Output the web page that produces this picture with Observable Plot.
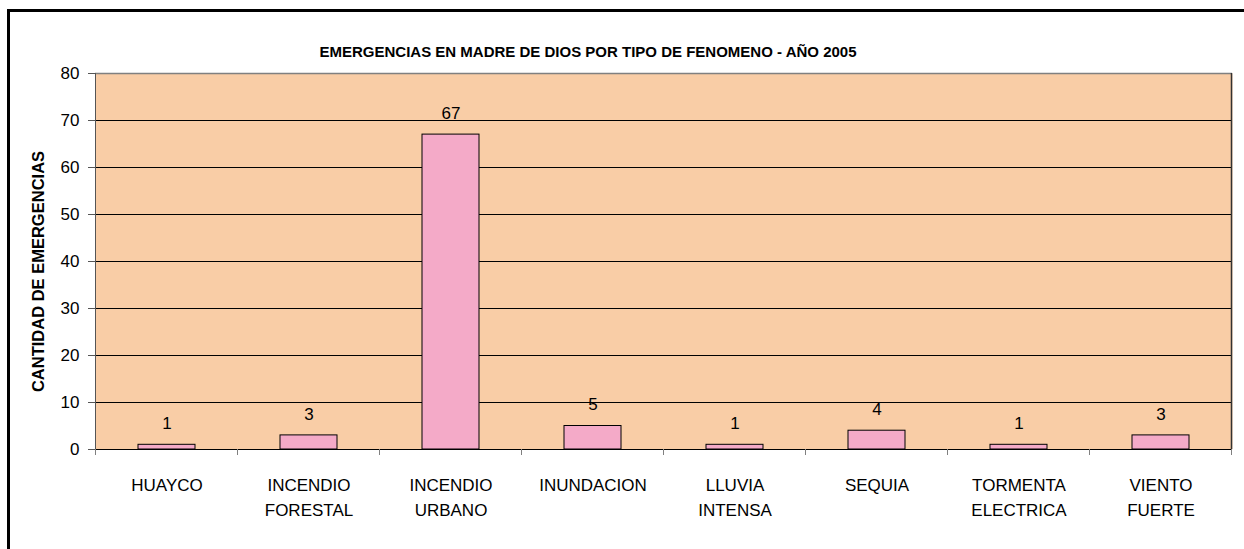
<!DOCTYPE html>
<html><head><meta charset="utf-8">
<script src="https://cdn.jsdelivr.net/npm/d3@7"></script>
<script src="https://cdn.jsdelivr.net/npm/@observablehq/plot@0.6"></script>
<style>
html,body{margin:0;padding:0;background:#fff;overflow:hidden;width:1244px;height:549px;}
#wrap{position:relative;width:1244px;height:549px;font-family:"Liberation Sans",Arial,sans-serif;}
#chart{position:absolute;left:0;top:0;}
#border{position:absolute;left:7px;top:9px;width:1300px;height:600px;border:3px solid #000;pointer-events:none;}
#title{position:absolute;left:0;width:1176px;top:43px;text-align:center;font-weight:bold;font-size:15px;color:#000;line-height:18px;}
</style></head><body>
<div id="wrap"><div id="chart"></div><div id="border"></div><div id="title">EMERGENCIAS EN MADRE DE DIOS POR TIPO DE FENOMENO - AÑO 2005</div></div>
<script>
const categories = ["HUAYCO","INCENDIO\nFORESTAL","INCENDIO\nURBANO","INUNDACION","LLUVIA\nINTENSA","SEQUIA","TORMENTA\nELECTRICA","VIENTO\nFUERTE"];
const values = [1,3,67,5,1,4,1,3];
const yTicks = [0,10,20,30,40,50,60,70,80];
const gridValues = [0,10,20,30,40,50,60,70];
const yLabel = "CANTIDAD DE EMERGENCIAS";

const data = categories.map((c,i)=>({cat:c, value:values[i]}));

function boundaryTicks(index, scales, values, dims) {
  const x = scales.x;
  const n = categories.length;
  let step, bw;
  if (typeof x.step === "function") { step = x.step(); bw = x.bandwidth(); }
  else { step = scales.scales.x.step; bw = scales.scales.x.bandwidth; }
  const y0 = dims.height - dims.marginBottom;
  const yTop = dims.marginTop;
  const g = d3.create("svg:g").attr("stroke-width",1);
  const xs = categories.map(c => x(c) - (step-bw)/2);
  const xEnd = x(categories[n-1]) + bw + (step-bw)/2;
  xs.push(xEnd);
  for (const px of xs) g.append("line").attr("stroke","#808080").attr("x1",px).attr("x2",px).attr("y1",y0).attr("y2",y0+6);
  // right and left plot-area borders
  g.append("line").attr("stroke","#333").attr("stroke-width",1.5).attr("x1",xEnd).attr("x2",xEnd).attr("y1",yTop).attr("y2",y0);
  g.append("line").attr("stroke","#555").attr("x1",xs[0]).attr("x2",xs[0]).attr("y1",yTop).attr("y2",y0);
  return g.node();
}

const chart = Plot.plot({
  width:1244, height:549,
  marginLeft:95, marginRight:12, marginTop:73, marginBottom:100,
  style:{fontFamily:"Liberation Sans, Arial, sans-serif", fontSize:"16.5px", color:"#000", background:"transparent", overflow:"visible"},
  x:{domain:categories, paddingInner:0.6, paddingOuter:0.3, axis:null},
  y:{domain:[0,80], axis:null},
  marks:[
    Plot.frame({fill:"#F9CDA6", stroke:null}),
    Plot.ruleY(gridValues, {stroke:"#000", strokeWidth:1}),
    Plot.ruleY([80], {stroke:"#808080", strokeWidth:1.5}),
    Plot.barY(data,{x:"cat", y:"value", fill:"#F4AAC8", stroke:"#000", strokeWidth:1}),
    Plot.text(data,{x:"cat", y:"value", text:d=>String(d.value), dy:-21, fontSize:17, fill:"#000"}),
    Plot.axisY({ticks:yTicks, tickSize:7, tickPadding:9, label:null, stroke:"#555", fill:"#000", fontSize:17}),
    Plot.axisX({tickSize:0, tickPadding:23, label:null, lineHeight:1.5, fontSize:17, fill:"#000"}),
    Plot.ruleY([0], {stroke:"#000", strokeWidth:1}),
    boundaryTicks,
    Plot.text([yLabel], {frameAnchor:"left", textAnchor:"middle", rotate:-90, dx:-57, dy:10, fontWeight:"bold", fontSize:16.5, fill:"#000", text:d=>d})
  ]
});
document.getElementById("chart").appendChild(chart);
</script>
</body></html>
